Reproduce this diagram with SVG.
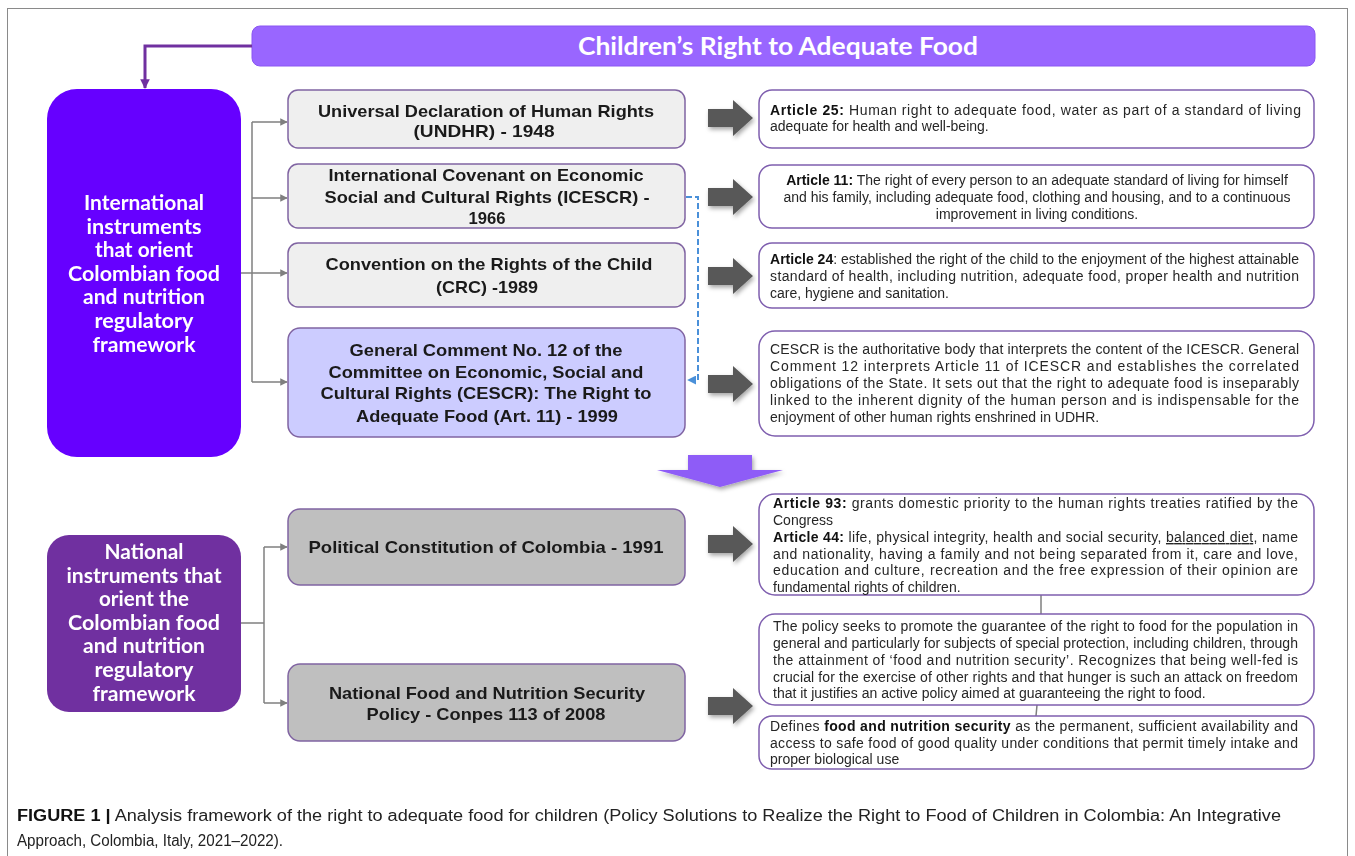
<svg xmlns="http://www.w3.org/2000/svg" width="1355" height="856" viewBox="0 0 1355 856">
<defs>
<style>
.frame{fill:none;stroke:#8a8a8a;stroke-width:1}
.banner{fill:#9966FF;stroke:#8a57f2;stroke-width:1}
.bannertxt{font-family:Lato,"Open Sans","Liberation Sans",sans-serif;font-weight:bold;font-size:25px;fill:#ffffff;text-anchor:middle}
.lbox1{fill:#6600FF}
.lbox2{fill:#7030A0}
.ltxt{font-family:Lato,"Open Sans","Liberation Sans",sans-serif;font-weight:bold;font-size:21px;fill:#ffffff;text-anchor:middle}
.mbox{fill:#EFEFEF;stroke:#8064A2;stroke-width:1.5}
.mboxb{fill:#CCCCFF;stroke:#8064A2;stroke-width:1.5}
.mboxg{fill:#BFBFBF;stroke:#8064A2;stroke-width:1.5}
.mtxt{font-family:"Liberation Sans",Arial,sans-serif;font-weight:bold;font-size:17px;fill:#1a1a1a;text-anchor:middle}
.rbox{fill:#ffffff;stroke:#7F5FAF;stroke-width:1.5}
.rtxt{font-family:"Liberation Sans",Arial,sans-serif;font-size:14px;fill:#262626}
.rtxtc{font-family:"Liberation Sans",Arial,sans-serif;font-size:14px;fill:#262626;text-anchor:middle}
.b{font-weight:bold;fill:#111}
.u{text-decoration:underline}
.conn{fill:none;stroke:#7f7f7f;stroke-width:1.5}
.pconn{fill:none;stroke:#7030A0;stroke-width:3}
.dconn{fill:none;stroke:#4A90D9;stroke-width:2;stroke-dasharray:6 3}
.blk{fill:#595959}
.down{fill:#8E5CF7}
.cap{font-family:"Liberation Sans",Arial,sans-serif;font-size:16px;fill:#222}
</style>
<marker id="ag" viewBox="0 0 10 10" refX="9" refY="5" markerWidth="5" markerHeight="5" orient="auto" markerUnits="strokeWidth"><path d="M0,0 L10,5 L0,10 Z" fill="#7f7f7f"/></marker>
<marker id="ap" viewBox="0 0 10 10" refX="9" refY="5" markerWidth="3.2" markerHeight="3.2" orient="auto" markerUnits="strokeWidth"><path d="M0,0 L10,5 L0,10 Z" fill="#7030A0"/></marker>
<marker id="ab" viewBox="0 0 10 10" refX="9" refY="5" markerWidth="4.5" markerHeight="4.5" orient="auto" markerUnits="strokeWidth"><path d="M0,0 L10,5 L0,10 Z" fill="#4A90D9"/></marker>
<filter id="sh" x="-30%" y="-30%" width="160%" height="160%"><feDropShadow dx="1.5" dy="2.5" stdDeviation="2" flood-color="#000" flood-opacity="0.35"/></filter>
<path id="barrow" d="M708,-9 H733 V-18 L753,0 L733,18 V9 H708 Z"/>
</defs>

<rect class="frame" x="7.5" y="8.5" width="1340" height="900"/>

<g id="banner">
<rect class="banner" x="252" y="26" width="1063" height="40" rx="8"/>
<text class="bannertxt" x="778" y="55" textLength="400" lengthAdjust="spacingAndGlyphs">Children’s Right to Adequate Food</text>
</g>

<g id="connectors">
<path class="pconn" d="M252,46 H145 V88" marker-end="url(#ap)"/>
<path class="conn" d="M252,122 V382"/>
<path class="conn" d="M252,122 H287" marker-end="url(#ag)"/>
<path class="conn" d="M252,198 H287" marker-end="url(#ag)"/>
<path class="conn" d="M241,273 H287" marker-end="url(#ag)"/>
<path class="conn" d="M252,382 H287" marker-end="url(#ag)"/>
<path class="dconn" d="M686,197 H698 V380 H688" marker-end="url(#ab)"/>
<path class="conn" d="M241,623 H264"/>
<path class="conn" d="M264,547 V703"/>
<path class="conn" d="M264,547 H287" marker-end="url(#ag)"/>
<path class="conn" d="M264,703 H287" marker-end="url(#ag)"/>
<g filter="url(#sh)">
<use href="#barrow" class="blk" transform="translate(0,118)"/>
<use href="#barrow" class="blk" transform="translate(0,197)"/>
<use href="#barrow" class="blk" transform="translate(0,276)"/>
<use href="#barrow" class="blk" transform="translate(0,384)"/>
<use href="#barrow" class="blk" transform="translate(0,544)"/>
<use href="#barrow" class="blk" transform="translate(0,706)"/>
<polygon class="down" points="688,455 752,455 752,470 783,470 720,487 657,470 688,470"/>
</g>
<path class="conn" d="M1041,595 V614"/>
<path class="conn" d="M1037,705 L1036,716"/>
</g>

<g id="intl">
<rect class="lbox1" x="47" y="89" width="194" height="368" rx="30"/>
<text class="ltxt" x="144" y="210" textLength="120" lengthAdjust="spacingAndGlyphs">International</text>
<text class="ltxt" x="144" y="233.6" textLength="115" lengthAdjust="spacingAndGlyphs">instruments</text>
<text class="ltxt" x="144" y="257.2" textLength="98" lengthAdjust="spacingAndGlyphs">that orient</text>
<text class="ltxt" x="144" y="280.8" textLength="152" lengthAdjust="spacingAndGlyphs">Colombian food</text>
<text class="ltxt" x="144" y="304.4" textLength="122" lengthAdjust="spacingAndGlyphs">and nutrition</text>
<text class="ltxt" x="144" y="328" textLength="99" lengthAdjust="spacingAndGlyphs">regulatory</text>
<text class="ltxt" x="144" y="351.6" textLength="103" lengthAdjust="spacingAndGlyphs">framework</text>
</g>

<g id="natl">
<rect class="lbox2" x="47" y="535" width="194" height="177" rx="22"/>
<text class="ltxt" x="144" y="559" textLength="79" lengthAdjust="spacingAndGlyphs">National</text>
<text class="ltxt" x="144" y="582.6" textLength="155" lengthAdjust="spacingAndGlyphs">instruments that</text>
<text class="ltxt" x="144" y="606.2" textLength="90" lengthAdjust="spacingAndGlyphs">orient the</text>
<text class="ltxt" x="144" y="629.8" textLength="152" lengthAdjust="spacingAndGlyphs">Colombian food</text>
<text class="ltxt" x="144" y="653.4" textLength="122" lengthAdjust="spacingAndGlyphs">and nutrition</text>
<text class="ltxt" x="144" y="677" textLength="99" lengthAdjust="spacingAndGlyphs">regulatory</text>
<text class="ltxt" x="144" y="700.6" textLength="103" lengthAdjust="spacingAndGlyphs">framework</text>
</g>

<g id="udhr">
<rect class="mbox" x="288" y="90" width="397" height="58" rx="10"/>
<text class="mtxt" x="486" y="117" textLength="336" lengthAdjust="spacingAndGlyphs">Universal Declaration of Human Rights</text>
<text class="mtxt" x="484" y="137" textLength="141" lengthAdjust="spacingAndGlyphs">(UNDHR) - 1948</text>
</g>

<g id="icescr">
<rect class="mbox" x="288" y="164" width="397" height="64" rx="10"/>
<text class="mtxt" x="486" y="181" textLength="315" lengthAdjust="spacingAndGlyphs">International Covenant on Economic</text>
<text class="mtxt" x="487" y="203" textLength="325" lengthAdjust="spacingAndGlyphs">Social and Cultural Rights (ICESCR) -</text>
<text class="mtxt" x="487" y="224" textLength="37" lengthAdjust="spacingAndGlyphs">1966</text>
</g>

<g id="crc">
<rect class="mbox" x="288" y="243" width="397" height="64" rx="10"/>
<text class="mtxt" x="489" y="270" textLength="327" lengthAdjust="spacingAndGlyphs">Convention on the Rights of the Child</text>
<text class="mtxt" x="487" y="293" textLength="102" lengthAdjust="spacingAndGlyphs">(CRC) -1989</text>
</g>

<g id="gc12">
<rect class="mboxb" x="288" y="328" width="397" height="109" rx="12"/>
<text class="mtxt" x="486" y="356" textLength="273" lengthAdjust="spacingAndGlyphs">General Comment No. 12 of the</text>
<text class="mtxt" x="486" y="378" textLength="315" lengthAdjust="spacingAndGlyphs">Committee on Economic, Social and</text>
<text class="mtxt" x="486" y="399" textLength="331" lengthAdjust="spacingAndGlyphs">Cultural Rights (CESCR): The Right to</text>
<text class="mtxt" x="487" y="422" textLength="262" lengthAdjust="spacingAndGlyphs">Adequate Food (Art. 11) - 1999</text>
</g>

<g id="pcc">
<rect class="mboxg" x="288" y="509" width="397" height="76" rx="12"/>
<text class="mtxt" x="486" y="553" textLength="355" lengthAdjust="spacingAndGlyphs">Political Constitution of Colombia - 1991</text>
</g>

<g id="nfnsp">
<rect class="mboxg" x="288" y="664" width="397" height="77" rx="12"/>
<text class="mtxt" x="487" y="699" textLength="316" lengthAdjust="spacingAndGlyphs">National Food and Nutrition Security</text>
<text class="mtxt" x="486" y="720" textLength="239" lengthAdjust="spacingAndGlyphs">Policy - Conpes 113 of 2008</text>
</g>

<g id="art25">
<rect class="rbox" x="759" y="90" width="555" height="58" rx="13"/>
<text class="rtxt" x="770" y="115" textLength="531" lengthAdjust="spacing"><tspan class="b">Article 25:</tspan> Human right to adequate food, water as part of a standard of living</text>
<text class="rtxt" x="770" y="131">adequate for health and well-being.</text>
</g>

<g id="art11">
<rect class="rbox" x="759" y="165" width="555" height="63" rx="13"/>
<text class="rtxtc" x="1037" y="185"><tspan class="b">Article 11:</tspan> The right of every person to an adequate standard of living for himself</text>
<text class="rtxtc" x="1037" y="202">and his family, including adequate food, clothing and housing, and to a continuous</text>
<text class="rtxtc" x="1037" y="219">improvement in living conditions.</text>
</g>

<g id="art24">
<rect class="rbox" x="759" y="243" width="555" height="65" rx="13"/>
<text class="rtxt" x="770" y="264" textLength="529" lengthAdjust="spacing"><tspan class="b">Article 24</tspan>: established the right of the child to the enjoyment of the highest attainable</text>
<text class="rtxt" x="770" y="281" textLength="529" lengthAdjust="spacing">standard of health, including nutrition, adequate food, proper health and nutrition</text>
<text class="rtxt" x="770" y="298">care, hygiene and sanitation.</text>
</g>

<g id="cescr">
<rect class="rbox" x="759" y="331" width="555" height="105" rx="16"/>
<text class="rtxt" x="770" y="354" textLength="529" lengthAdjust="spacing">CESCR is the authoritative body that interprets the content of the ICESCR. General</text>
<text class="rtxt" x="770" y="371" textLength="529" lengthAdjust="spacing">Comment 12 interprets Article 11 of ICESCR and establishes the correlated</text>
<text class="rtxt" x="770" y="388" textLength="529" lengthAdjust="spacing">obligations of the State. It sets out that the right to adequate food is inseparably</text>
<text class="rtxt" x="770" y="405" textLength="529" lengthAdjust="spacing">linked to the inherent dignity of the human person and is indispensable for the</text>
<text class="rtxt" x="770" y="422">enjoyment of other human rights enshrined in UDHR.</text>
</g>

<g id="art93">
<rect class="rbox" x="759" y="494" width="555" height="101" rx="16"/>
<text class="rtxt" x="773" y="508" textLength="525" lengthAdjust="spacing"><tspan class="b">Article 93:</tspan> grants domestic priority to the human rights treaties ratified by the</text>
<text class="rtxt" x="773" y="525">Congress</text>
<text class="rtxt" x="773" y="542" textLength="525" lengthAdjust="spacing"><tspan class="b">Article 44:</tspan> life, physical integrity, health and social security, <tspan class="u">balanced diet</tspan>, name</text>
<text class="rtxt" x="773" y="559" textLength="525" lengthAdjust="spacing">and nationality, having a family and not being separated from it, care and love,</text>
<text class="rtxt" x="773" y="575" textLength="525" lengthAdjust="spacing">education and culture, recreation and the free expression of their opinion are</text>
<text class="rtxt" x="773" y="592">fundamental rights of children.</text>
</g>

<g id="policy">
<rect class="rbox" x="759" y="614" width="555" height="91" rx="16"/>
<text class="rtxt" x="773" y="631" textLength="525" lengthAdjust="spacing">The policy seeks to promote the guarantee of the right to food for the population in</text>
<text class="rtxt" x="773" y="648" textLength="525" lengthAdjust="spacing">general and particularly for subjects of special protection, including children, through</text>
<text class="rtxt" x="773" y="665" textLength="525" lengthAdjust="spacing">the attainment of ‘food and nutrition security’. Recognizes that being well-fed is</text>
<text class="rtxt" x="773" y="682" textLength="525" lengthAdjust="spacing">crucial for the exercise of other rights and that hunger is such an attack on freedom</text>
<text class="rtxt" x="773" y="698">that it justifies an active policy aimed at guaranteeing the right to food.</text>
</g>

<g id="fns">
<rect class="rbox" x="759" y="716" width="555" height="53" rx="13"/>
<text class="rtxt" x="770" y="731" textLength="528" lengthAdjust="spacing">Defines <tspan class="b">food and nutrition security</tspan> as the permanent, sufficient availability and</text>
<text class="rtxt" x="770" y="748" textLength="528" lengthAdjust="spacing">access to safe food of good quality under conditions that permit timely intake and</text>
<text class="rtxt" x="770" y="764">proper biological use</text>
</g>

<g id="caption">
<text class="cap" x="17" y="821" textLength="1264" lengthAdjust="spacingAndGlyphs"><tspan font-weight="bold" fill="#111">FIGURE 1 |</tspan> Analysis framework of the right to adequate food for children (Policy Solutions to Realize the Right to Food of Children in Colombia: An Integrative</text>
<text class="cap" x="17" y="846" textLength="266" lengthAdjust="spacingAndGlyphs">Approach, Colombia, Italy, 2021–2022).</text>
</g>
</svg>
